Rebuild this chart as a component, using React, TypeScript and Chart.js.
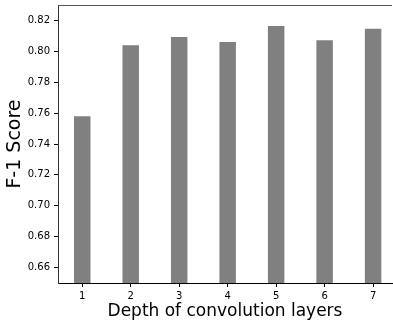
import React, { useEffect, useRef } from "react";
import { Chart, registerables } from "chart.js";

Chart.register(...registerables);

const depths = [1, 2, 3, 4, 5, 6, 7];
const f1Scores = [0.758, 0.804, 0.8093, 0.806, 0.8164, 0.8071, 0.8146];
const yTickValues = [0.66, 0.68, 0.7, 0.72, 0.74, 0.76, 0.78, 0.8, 0.82];
const xLabel = "Depth of convolution layers";
const yLabel = "F-1 Score";

const FONT = "'DejaVu Sans', sans-serif";

const topSpine = {
  id: "topSpine",
  afterDraw(chart: any) {
    const { ctx, chartArea } = chart;
    ctx.save();
    ctx.strokeStyle = "#555";
    ctx.lineWidth = 1;
    ctx.beginPath();
    ctx.moveTo(chartArea.left, chartArea.top + 0.5);
    ctx.lineTo(chartArea.right, chartArea.top + 0.5);
    ctx.stroke();
    ctx.restore();
  },
};

export default function App() {
  const ref = useRef<HTMLCanvasElement>(null);
  useEffect(() => {
    document.body.style.margin = "0";
    const chart = new Chart(ref.current!, {
      type: "bar",
      data: {
        datasets: [
          {
            data: depths.map((d, i) => ({ x: d, y: f1Scores[i] })),
            backgroundColor: "#808080",
            borderWidth: 0,
            barPercentage: 0.34,
            categoryPercentage: 1,
          },
        ],
      },
      options: {
        responsive: false,
        animation: false,
        layout: { padding: { top: 5, right: 1, left: 0, bottom: 0 } },
        plugins: { legend: { display: false }, tooltip: { enabled: false } },
        scales: {
          x: {
            type: "linear",
            min: 0.5,
            max: 7.39,
            offset: false,
            afterBuildTicks: (scale: any) => {
              scale.ticks = depths.map((v) => ({ value: v }));
            },
            afterFit: (scale: any) => {
              scale.height = 46;
              scale.paddingLeft = 0;
              scale.paddingRight = 0;
            },
            grid: { offset: false, drawOnChartArea: false, drawTicks: true, tickLength: 4, color: "#000" },
            border: { display: true, color: "#000", width: 1 },
            ticks: {
              autoSkip: false,
              maxRotation: 0,
              padding: 3,
              color: "#000",
              font: { family: FONT, size: 10 },
              callback: (v: any) => String(v),
            },
            title: {
              display: true,
              text: xLabel,
              color: "#000",
              font: { family: FONT, size: 17 },
              padding: { top: 0, bottom: 7 },
            },
          },
          y: {
            min: 0.65,
            max: 0.83,
            afterBuildTicks: (scale: any) => {
              scale.ticks = yTickValues.map((v) => ({ value: v }));
            },
            afterFit: (scale: any) => {
              scale.width = 58;
              scale.paddingTop = 0;
              scale.paddingBottom = 0;
            },
            grid: { drawOnChartArea: false, drawTicks: true, tickLength: 4, color: "#000" },
            border: { display: true, color: "#333", width: 1 },
            ticks: {
              padding: 4,
              color: "#000",
              font: { family: FONT, size: 10 },
              callback: (v: any) => Number(v).toFixed(2),
            },
            title: {
              display: true,
              text: yLabel,
              color: "#000",
              font: { family: FONT, size: 19 },
              padding: { top: 4, bottom: 0 },
            },
          },
        },
      },
      plugins: [topSpine],
    });
    return () => chart.destroy();
  }, []);
  return (
    <div style={{ position: "absolute", left: 0, top: 0, width: 393, height: 329 }}>
      <canvas ref={ref} width={393} height={329} />
    </div>
  );
}
